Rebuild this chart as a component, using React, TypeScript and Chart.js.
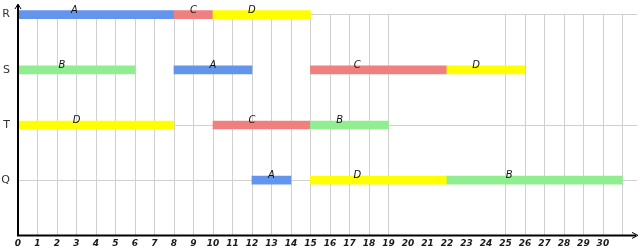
import React, { useEffect, useRef } from "react";
import { Chart, registerables } from "chart.js";

Chart.register(...registerables);

const rows = ["R", "S", "T", "Q"];
const taskRow = ["R", "R", "R", "S", "S", "S", "S", "T", "T", "T", "Q", "Q", "Q"];
const taskName = ["A", "C", "D", "B", "A", "C", "D", "D", "C", "B", "A", "D", "B"];
const taskStart = [0, 8, 10, 0, 8, 15, 22, 0, 10, 15, 12, 15, 22];
const taskEnd = [8, 10, 15, 6, 12, 22, 26, 8, 15, 19, 14, 22, 31];
const taskLabelAt = [2.9, 9, 12, 2.25, 10, 17.4, 23.5, 3, 12, 16.5, 13, 17.4, 25.2];
const xTickMax = 30;
const xGridMax = 31;
const hiddenXGrid = [20, 21, 22, 23, 24];
const hiddenYGrid = ["S"];

const nameColors: Record<string, string> = {
  A: "#6495ED",
  B: "#90EE90",
  C: "#F08080",
  D: "#FFFF00",
};

const rowValue = (r: string) => rows.length - rows.indexOf(r);

export default function App() {
  const ref = useRef<HTMLCanvasElement | null>(null);

  useEffect(() => {
    document.body.style.margin = "0";
    const canvas = ref.current!;
    const labelPlugin = {
      id: "barLabels",
      beforeDatasetsDraw(chart: any) {
        const { ctx, chartArea, scales } = chart;
        const xs = scales.x;
        ctx.save();
        ctx.strokeStyle = "#d0d0d0";
        ctx.lineWidth = 1;
        for (let v = 1; v <= xGridMax; v++) {
          if (hiddenXGrid.includes(v)) continue;
          const px = Math.round(xs.getPixelForValue(v)) + 0.5;
          ctx.beginPath();
          ctx.moveTo(px, chartArea.top);
          ctx.lineTo(px, chartArea.bottom);
          ctx.stroke();
        }
        ctx.restore();
      },
      afterDatasetsDraw(chart: any) {
        const { ctx, scales } = chart;
        const xs = scales.x;
        const ys = scales.y;
        ctx.save();
        ctx.font = "italic 10px 'DejaVu Sans', sans-serif";
        ctx.fillStyle = "#111";
        ctx.textAlign = "center";
        ctx.textBaseline = "alphabetic";
        taskName.forEach((n, i) => {
          const x = xs.getPixelForValue(taskLabelAt[i]);
          const y = ys.getPixelForValue(rowValue(taskRow[i])) - 4 + 2;
          ctx.fillText(n, x, y);
        });
        ctx.restore();
      },
      afterDraw(chart: any) {
        const { ctx, chartArea } = chart;
        const left = chartArea.left;
        const bottom = chartArea.bottom;
        ctx.save();
        ctx.strokeStyle = "#000";
        ctx.fillStyle = "#000";
        ctx.lineWidth = 2;
        ctx.beginPath();
        ctx.moveTo(left, 5);
        ctx.lineTo(left, bottom);
        ctx.lineTo(chart.width - 4, bottom);
        ctx.stroke();
        ctx.lineWidth = 1;
        ctx.beginPath();
        ctx.moveTo(left - 3, 9);
        ctx.lineTo(left, 4);
        ctx.lineTo(left + 3, 9);
        ctx.stroke();
        ctx.beginPath();
        ctx.moveTo(chart.width - 8, bottom - 3);
        ctx.lineTo(chart.width - 2, bottom);
        ctx.lineTo(chart.width - 8, bottom + 3);
        ctx.stroke();
        ctx.restore();
      },
    };

    const chart = new Chart(canvas, {
      type: "bar",
      data: {
        datasets: [
          {
            data: taskName.map((n, i) => ({
              y: rowValue(taskRow[i]),
              x: [taskStart[i], taskEnd[i]],
            })) as any,
            backgroundColor: taskName.map((n) => nameColors[n]),
            borderWidth: 0,
            barThickness: 8,
            clip: false as any,
          },
        ],
      },
      options: {
        indexAxis: "y",
        responsive: false,
        animation: false,
        devicePixelRatio: 1,
        layout: { padding: { top: 13, right: 0, left: 0, bottom: 0 } },
        plugins: { legend: { display: false }, tooltip: { enabled: false } },
        scales: {
          x: {
            type: "linear",
            min: 0,
            max: 31.75,
            offset: false,
            border: { display: false },
            afterFit: (s: any) => {
              s.height = 13;
            },
            grid: {
              offset: false,
              drawTicks: false,
              display: true,
              color: "rgba(0,0,0,0)",
            },
            ticks: {
              stepSize: 1,
              autoSkip: false,
              maxRotation: 0,
              padding: 3,
              color: "#1a1a1a",
              font: { size: 9, style: "italic", weight: "bold", family: "'DejaVu Sans', sans-serif" },
              callback: (v: any) => (Number.isInteger(v) && v <= xTickMax ? String(v) : ""),
            },
          },
          y: {
            type: "linear",
            min: 0,
            max: rows.length,
            offset: false,
            border: { display: false },
            afterFit: (s: any) => {
              s.width = 18;
            },
            grid: {
              offset: false,
              drawTicks: false,
              color: (c: any) => {
                const v = c.tick ? c.tick.value : 0;
                const r = rows[rows.length - v];
                if (v === 0 || !r || hiddenYGrid.includes(r)) return "rgba(0,0,0,0)";
                return "#d0d0d0";
              },
            },
            ticks: {
              stepSize: 1,
              padding: 8,
              color: "#333",
              font: { size: 11, family: "'DejaVu Sans', sans-serif" },
              callback: (v: any) => rows[rows.length - v] || "",
            },
          },
        },
      },
      plugins: [labelPlugin],
    });
    return () => chart.destroy();
  }, []);

  return (
    <div style={{ width: 640, height: 250 }}>
      <canvas ref={ref} width={640} height={250} style={{ display: "block" }} />
    </div>
  );
}
